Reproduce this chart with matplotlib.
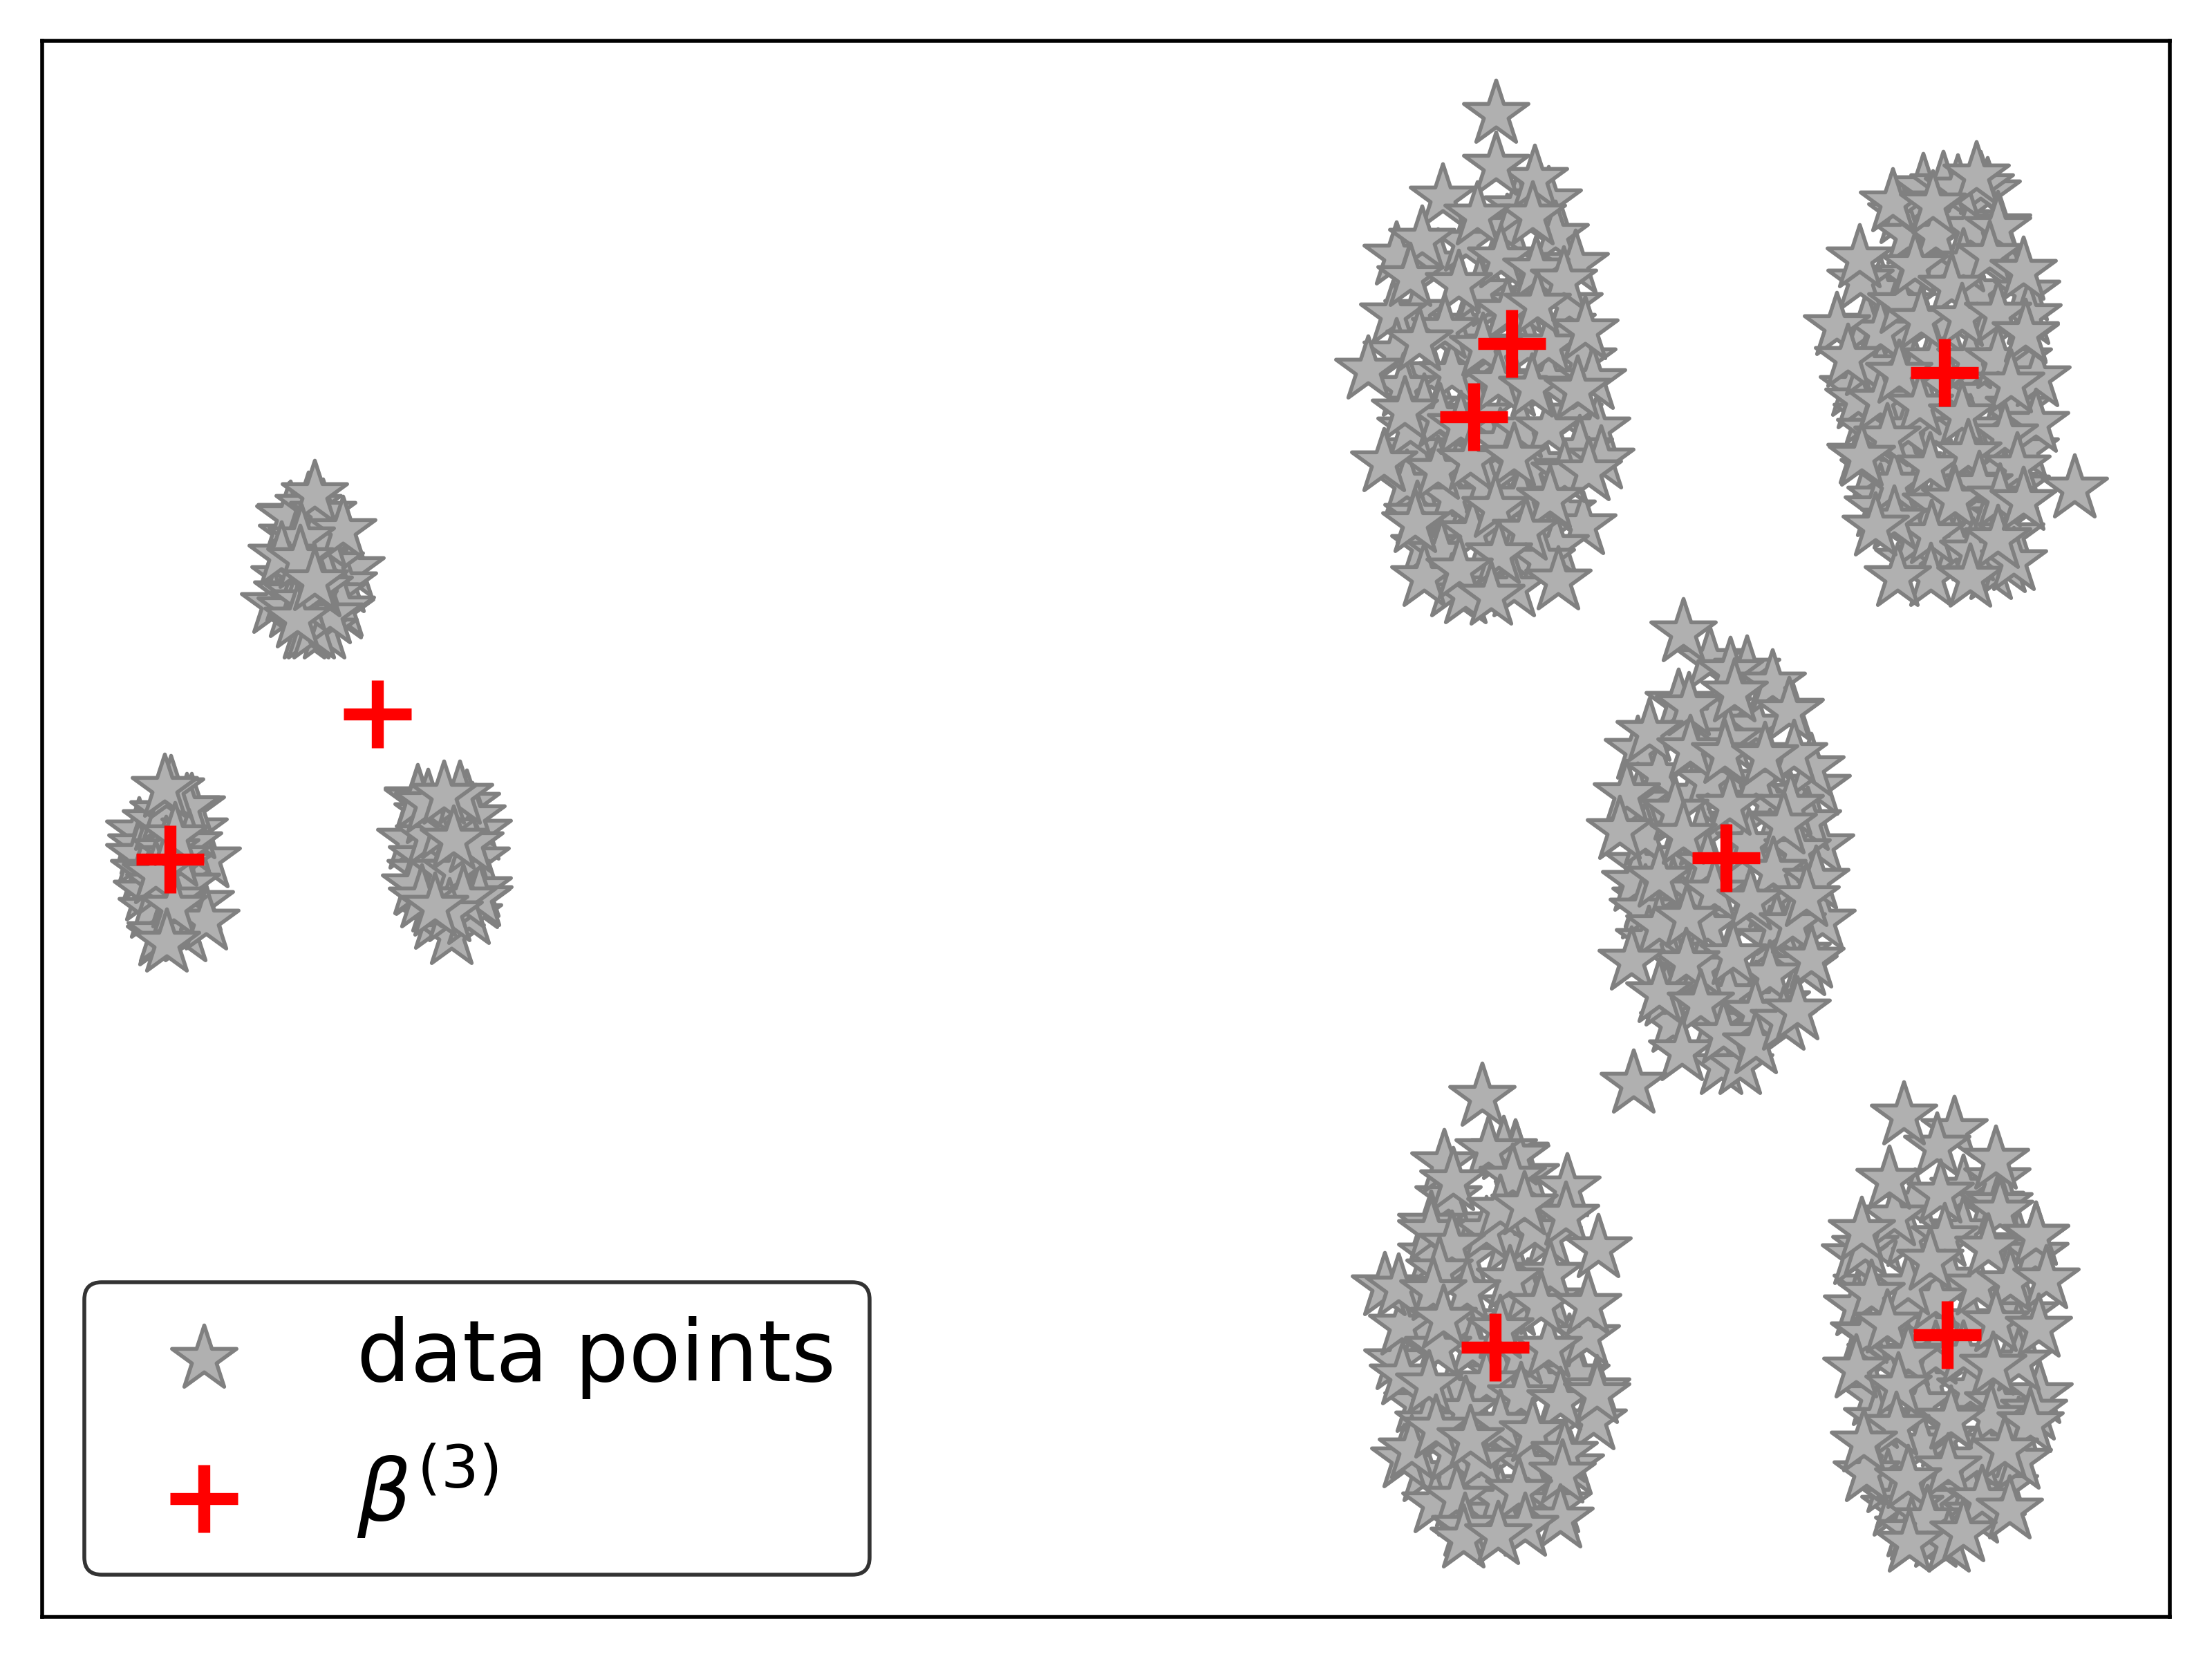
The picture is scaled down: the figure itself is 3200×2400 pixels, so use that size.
import numpy as np
import matplotlib
matplotlib.use("Agg")
import matplotlib.pyplot as plt

# point positions (unit = 1 pixel of the 3200x2400 image, y pointing down)
cluster_top_mid = [
    (2080,380),(2120,470),(2050,450),(2160,510),(2210,500),(2260,470),(2070,540),(2110,500),(2160,430),(2200,440),
    (2240,550),(2190,560),(2130,560),(2090,640),(2050,700),(2110,680),(2160,680),(2230,670),(2270,600),(2260,740),
    (2210,680),(2170,760),(2090,760),(2130,720),(2230,770),(2190,800),(2140,830),(2080,800),(2120,350),(2180,330),
    (2020,370),(2015,455),(2020,510),(2030,560),(2045,650),(2035,700),(2050,745),(2060,790),(2085,800),(2100,850),
    (2195,300),(2240,290),(2250,340),(2270,440),(2290,520),(2310,620),(2285,650),(2290,760),(2250,790),(2230,810),
    (2190,850),(2120,860),(2140,420),(2180,450),(2100,540),(2140,600),(2060,590),(2240,500),(2170,640),(2100,720),
    (2150,700),(2200,620),(2240,620),(2080,680),(2130,770),(2200,720),(2040,620),(2316,665),(2304,550),
    (2164,165),(2220,259),(2217,312),(2164,240),(2087,286),(2137,312),(2057,347),(2171,374),(2279,382),(2040,401),
    (2222,390),(2110,411),(2262,406),(2224,441),(2090,476),(2293,478),(2053,494),(2145,502),(1979,535),(2167,553),
    (2216,561),(2282,564),(2083,604),(2113,615),(2032,594),(2002,669),(2127,666),(2190,661),(2263,685),(2298,682),
    (2163,735),(2242,722),(2207,768),(2047,757),(2168,802),(2060,835),(2111,824),(2254,840),(2157,862),
]
cluster_top_right = [
    (2720,420),(2760,400),(2810,380),(2860,420),(2910,400),(2700,470),(2750,490),(2810,470),(2870,490),(2920,520),
    (2680,560),(2720,540),(2770,540),(2820,560),(2870,570),(2920,590),(2700,600),(2740,600),(2800,620),(2880,640),
    (2930,650),(2710,680),(2760,670),(2820,680),(2870,680),(2770,720),(2850,740),(2900,750),(2720,720),(2760,810),
    (2810,800),(2870,770),(2900,700),(2780,300),(2830,320),
    (2691,406),(2688,578),(2691,658),(2716,734),(2705,622),(2947,546),(2945,612),(2932,422),(2934,456),(2930,484),
    (2917,704),(2909,773),(2875,277),(2865,268),(2890,326),(2700,530),(2720,480),(2750,440),(2800,520),(2850,520),
    (2890,520),(2720,580),(2760,620),(2850,620),(2900,630),(2740,700),(2800,730),(2770,780),(2830,790),(2880,825),
    (2900,815),(2750,310),(2760,340),(2800,340),(2850,330),(2840,380),
    (2782,271),(2811,268),(2832,273),(2738,293),(2859,254),(2796,296),(2890,330),(2878,369),(2770,385),(2690,374),
    (2927,392),(2823,415),(2779,463),(2838,459),(2890,454),(2657,472),(2930,482),(2673,518),(2747,541),(2909,555),
    (2777,587),(2838,601),(2730,633),(2693,661),(2792,675),(2918,675),(2847,656),(2863,702),(2828,723),(2893,720),
    (3001,707),(2794,773),(2854,798),(2793,835),(2745,835),(2850,836),(2913,812),(2890,780),(2927,725),(2740,752),
    (2713,762),
]
cluster_centre = [
    (2420,1060),(2480,1040),(2540,1050),(2400,1170),(2450,1150),(2500,1130),(2560,1160),(2610,1150),(2370,1250),
    (2420,1240),(2460,1210),(2520,1190),(2560,1220),(2610,1240),(2420,1290),(2510,1260),(2590,1290),(2380,1300),
    (2450,1290),(2520,1330),(2560,1300),(2470,1340),(2420,1380),(2560,1360),(2600,1380),(2450,1430),(2510,1420),
    (2540,1440),(2480,1480),(2420,1480),(2570,1450),(2500,1070),(2370,1160),
    (2629,1137),(2620,1110),(2634,1223),(2636,1332),(2610,1398),(2615,1188),(2590,1027),(2369,1085),(2428,1017),
    (2365,1276),(2376,1316),(2385,1360),(2410,1442),(2400,1120),(2470,1130),(2540,1130),(2380,1210),(2470,1250),
    (2530,1220),(2600,1230),(2400,1270),(2480,1290),(2570,1340),(2400,1340),(2500,1440),(2560,1410),(2460,1400),
    (2473,955),(2527,969),(2503,971),(2564,989),(2509,1002),(2588,1029),(2443,1022),(2386,1059),(2445,1084),
    (2495,1091),(2595,1091),(2553,1094),(2353,1149),(2502,1166),(2590,1166),(2423,1173),(2580,1193),(2435,1208),
    (2343,1201),(2565,1260),(2532,1303),(2440,1328),(2507,1382),(2439,1392),(2360,1390),(2593,1337),(2627,1273),
    (2613,1298),(2400,1437),(2460,1452),(2539,1464),(2490,1541),(2517,1541),(2433,1521),(2493,1496),(2540,1511),
    (2363,1568),(2580,1477),(2620,1387),(2600,1462),(2435,915),
]
cluster_bottom_mid = [
    (2110,1770),(2240,1790),(2050,1880),(2120,1820),(2180,1800),(2240,1880),(2060,1920),(2120,1910),(2190,1890),
    (2270,1950),(2050,2030),(2100,2010),(2170,1990),(2230,2000),(2280,1990),(2090,2040),(2140,2060),(2190,2090),
    (2240,2070),(2100,2130),(2150,2150),(2220,2160),(2060,2130),(2110,2180),(2160,2190),(2240,2150),(2210,1870),
    (2295,1933),(2310,2010),(2305,2055),(2272,2120),(2254,2175),(2207,1700),(2192,1669),(2021,1968),(2028,1918),
    (2031,2110),(2066,2058),(2076,2175),(2095,1732),(2070,1772),(2070,1815),(2150,1780),(2220,1780),(2130,1950),
    (2200,1960),(2080,1950),(2150,2000),(2200,2020),(2240,1950),(2120,2040),(2170,2060),(2210,2120),(2170,2170),
    (2100,2100),
    (2144,1587),(2175,1664),(2193,1672),(2153,1664),(2089,1683),(2102,1709),(2267,1718),(2188,1704),(2170,1749),
    (2265,1759),(2205,1744),(2070,1781),(2100,1801),(2312,1806),(2082,1838),(2242,1843),(2184,1851),(2122,1868),
    (2003,1861),(2023,1863),(2073,1868),(2229,1888),(2297,1888),(2088,1908),(2170,1923),(2029,1990),(2067,2003),
    (2257,2027),(2310,2017),(2217,2072),(2142,2112),(2042,2097),(2077,2067),(2127,2082),(2263,2102),(2260,2132),
    (2107,2167),(2197,2157),(2257,2197),(2119,2209),(2117,2226),(2206,2209),(2167,2221),
]
cluster_bottom_right = [
    (2770,1740),(2840,1720),(2880,1740),(2720,1800),(2760,1790),(2840,1780),(2920,1800),(2700,1860),(2760,1900),
    (2820,1850),(2900,1880),(2930,1900),(2720,1960),(2790,1920),(2850,1910),(2920,1930),(2710,2020),(2790,2000),
    (2850,2010),(2890,2030),(2740,2100),(2810,2080),(2870,2090),(2920,2070),(2740,2180),(2820,2170),(2880,2140),
    (2790,2170),(2900,2150),(2760,2210),(2850,2160),
    (2683,1816),(2686,1890),(2696,1929),(2698,1804),(2715,2053),(2731,2146),(2743,2170),(2763,2180),(2765,2215),
    (2945,1788),(2944,1814),(2950,2017),(2942,2041),(2920,2112),(2889,1706),(2892,1742),(2740,1760),(2800,1880),
    (2860,1860),(2760,1860),(2700,1930),(2800,1960),(2840,1960),(2920,1970),(2780,2030),(2880,2050),(2780,2090),
    (2860,2110),(2700,2130),(2860,2190),(2800,2225),
    (2827,1635),(2802,1659),(2887,1678),(2754,1614),(2733,1707),(2807,1727),(2893,1753),(2693,1781),(2813,1790),
    (2876,1805),(2945,1788),(2792,1824),(2908,1855),(2960,1851),(2707,1872),(2730,1915),(2887,1913),(2949,1921),
    (2760,1963),(2685,1980),(2746,2006),(2883,1976),(2822,2054),(2743,2063),(2937,2059),(2696,2087),(2900,2097),
    (2818,2123),(2760,2140),(2867,2169),(2907,2184),(2788,2198),(2819,2232),(2762,2232),(2840,2217),
]
cluster_left_top = [
    (420,745),(422,775),(411,835),(396,874),(508,822),(497,844),(493,882),(478,815),(415,857),(430,860),(450,880),
    (470,860),(420,880),(440,840),(480,860),(494,879),(440,911),(469,911),(446,911),(454,911),(477,889),(460,800),
    (440,870),(462,850),(430,895),(470,780),
    (418,747),(446,732),(467,742),(455,715),(496,767),(436,779),(407,804),(434,809),(455,841),
]
cluster_left_low = [
    (201,1203),(204,1223),(201,1237),(208,1260),(212,1290),(225,1188),(236,1175),(219,1315),(231,1355),(232,1350),
    (268,1349),(290,1305),(300,1242),(281,1200),(277,1168),(270,1168),(273,1220),(247,1142),(240,1230),(260,1250),
    (230,1280),(270,1280),(250,1300),(255,1240),(225,1265),(238,1140),(253,1210),(298,1332),(251,1312),(241,1364),
]
cluster_right_low = [
    (604,1155),(593,1215),(602,1282),(608,1260),(610,1240),(618,1178),(675,1163),(692,1202),(683,1181),(689,1242),
    (692,1285),(690,1301),(630,1331),(653,1353),(678,1324),(693,1298),(600,1281),(626,1306),(620,1210),(640,1260),
    (660,1260),(680,1220),(640,1200),(670,1300),(650,1320),(610,1300),(604,1157),(619,1162),(665,1150),(642,1150),
    (656,1215),(629,1312),
]
clusters = [cluster_top_mid, cluster_top_right, cluster_centre, cluster_bottom_mid,
            cluster_bottom_right, cluster_left_top, cluster_left_low, cluster_right_low]

beta_x = [2187, 2132, 2813, 2497, 2163, 2817, 546, 246]
beta_y = [497, 603, 539, 1241, 1949, 1931, 1033, 1243]

fig = plt.figure(figsize=(6.4, 4.8), dpi=500)
ax = fig.add_axes([61 / 3200, 1 - 2339 / 2400, 3078 / 3200, 2280 / 2400])

for i, pts in enumerate(clusters):
    pts = np.array(pts)
    ax.scatter(pts[:, 0], pts[:, 1], s=200, marker='*', c='#b0b0b0', edgecolors='gray',
               linewidths=0.8, label='data points' if i == 0 else None)
ax.scatter(beta_x, beta_y, s=200, marker='+', c='red', linewidths=2.5, label=r'$\beta^{(3)}$', zorder=3)

ax.set_xlim(61, 3139)
ax.set_ylim(2339, 59)
ax.set_xticks([])
ax.set_yticks([])
leg = ax.legend(loc='lower left', fontsize=17.7, edgecolor='k')
leg.get_frame().set_linewidth(0.8)

fig.savefig('out.png', dpi=500)
